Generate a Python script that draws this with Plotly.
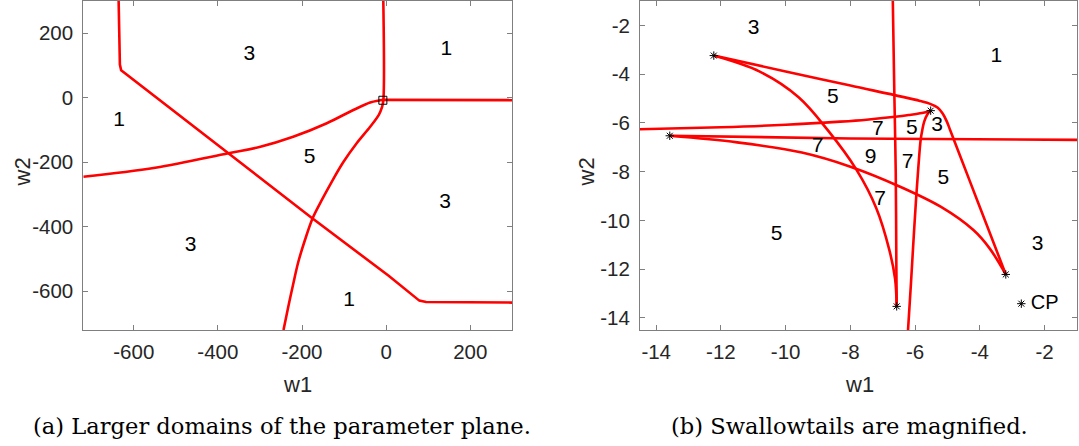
import plotly.graph_objects as go

# ---------------- Left panel (larger domain) ----------------
left_curve1_w1 = [-636, -635, -633, -630, -375, -178, 6, 79, 95, 150, 300]
left_curve1_w2 = [300, 150, 103, 85, -172, -371, -552, -629, -633, -634, -635]

left_curve2_w1 = [-720, -549, -375, -299, -221, -141, -78, -38, -19, -8]
left_curve2_w2 = [-245, -217, -172, -152, -121, -79, -38, -15, -9, -7]

left_curve3_w1 = [-10, 300]
left_curve3_w2 = [-6.6, -7.4]

left_curve4_w1 = [-6.7, -6.7, -10, -17, -38, -70, -102, -130, -155, -175, -193, -209, -221, -233, -244]
left_curve4_w2 = [300, -9, -30, -52, -90, -141, -200, -262, -322, -374, -441, -510, -578, -650, -720]

left_box_w1 = [-7.75]
left_box_w2 = [-7.75]

left_label_text = ["3", "1", "1", "5", "3", "3", "1"]
left_label_w1 = [-325, 143, -635, -182, 140, -465, -88]
left_label_w2 = [134, 150, -72, -186, -325, -459, -630]

left_ticks = [-600, -400, -200, 0, 200]
left_tick_text = ["-600", "-400", "-200", "0", "200"]

# ---------------- Right panel (swallowtails) ----------------
right_curveA_w1 = [-12.22, -10.0, -8.0, -5.85, -5.5, -5.3, -5.15, -5.02, -4.92, -4.32, -3.8, -3.2]
right_curveA_w2 = [-3.24, -3.89, -4.47, -5.10, -5.24, -5.38, -5.62, -5.95, -6.29, -8.36, -10.15, -12.22]

right_curveB_w1 = [-12.22, -10.8, -9.6, -8.7, -7.81, -7.2, -6.8, -6.62, -6.57]
right_curveB_w2 = [-3.24, -3.9, -4.95, -6.3, -7.93, -9.5, -11.2, -12.4, -13.53]

right_curveC_w1 = [-14.5, -12, -10, -8.32, -7.5, -6.62, -6.2, -5.85, -5.52]
right_curveC_w2 = [-6.26, -6.18, -6.08, -5.95, -5.87, -5.75, -5.68, -5.61, -5.50]

right_curveD_w1 = [-5.52, -5.62, -5.72, -5.78, -5.83, -5.9, -5.97, -6.05, -6.13, -6.22]
right_curveD_w2 = [-5.50, -5.65, -5.95, -6.3, -6.7, -7.8, -9.1, -10.8, -12.6, -14.5]

right_curveE_w1 = [-6.69, -6.64, -6.6, -6.58, -6.57]
right_curveE_w2 = [-1, -5, -8, -12, -13.53]

right_curveF_w1 = [-13.58, -8, -1]
right_curveF_w2 = [-6.53, -6.64, -6.70]

right_curveG_w1 = [-13.58, -11.5, -9.5, -8.0, -6.5, -5.2, -4.2, -3.7, -3.2]
right_curveG_w2 = [-6.53, -6.8, -7.22, -7.8, -8.6, -9.45, -10.4, -11.15, -12.22]

cp_w1 = [-12.22, -5.52, -13.58, -6.57, -3.2]
cp_w2 = [-3.24, -5.50, -6.53, -13.53, -12.22]

right_label_text = ["3", "1", "5", "7", "5", "3", "7", "9", "7", "5", "7", "5", "3"]
right_label_w1 = [-10.99, -3.49, -8.54, -7.15, -6.1, -5.32, -9.01, -7.38, -6.23, -5.13, -7.08, -10.28, -2.22]
right_label_w2 = [-2.14, -3.30, -4.98, -6.3, -6.23, -6.13, -6.97, -7.42, -7.63, -8.28, -9.14, -10.58, -10.99]

legend_w1 = [-2.72]
legend_w2 = [-13.42]
legend_text_w1 = [-2.0]

right_ticks = [-14, -12, -10, -8, -6, -4, -2]
right_tick_text = ["-14", "-12", "-10", "-8", "-6", "-4", "-2"]

captions = ["(a) Larger domains of the parameter plane.", "(b) Swallowtails are magnified."]

# ---------------- Figure ----------------
W, H = 1079, 446
RED = "#ff0000"
LW = 2.6
SANS = "Liberation Sans, Arial, sans-serif"
fig = go.Figure()

def add_line(x, y, xa, ya, shape="linear", smoothing=0.0):
    line = dict(color=RED, width=LW, shape=shape)
    if shape == "spline":
        line["smoothing"] = smoothing
    fig.add_trace(go.Scatter(x=x, y=y, mode="lines", line=line,
                             xaxis=xa, yaxis=ya, showlegend=False, hoverinfo="skip"))

add_line(left_curve1_w1, left_curve1_w2, "x", "y")
add_line(left_curve2_w1, left_curve2_w2, "x", "y", "spline", 1.0)
add_line(left_curve3_w1, left_curve3_w2, "x", "y")
add_line(left_curve4_w1, left_curve4_w2, "x", "y", "spline", 1.0)

fig.add_trace(go.Scatter(x=left_box_w1, y=left_box_w2, mode="markers",
                         marker=dict(symbol="square-open", size=8, color="black", line=dict(width=1)),
                         xaxis="x", yaxis="y", showlegend=False))

fig.add_trace(go.Scatter(x=left_label_w1, y=left_label_w2, mode="text", text=left_label_text,
                         textfont=dict(family=SANS, size=21, color="black"),
                         xaxis="x", yaxis="y", showlegend=False))

for xs, ys in [(right_curveA_w1, right_curveA_w2), (right_curveB_w1, right_curveB_w2),
               (right_curveC_w1, right_curveC_w2), (right_curveD_w1, right_curveD_w2),
               (right_curveE_w1, right_curveE_w2), (right_curveF_w1, right_curveF_w2),
               (right_curveG_w1, right_curveG_w2)]:
    add_line(xs, ys, "x2", "y2", "spline", 1.0)

fig.add_trace(go.Scatter(x=cp_w1 + legend_w1, y=cp_w2 + legend_w2, mode="markers",
                         marker=dict(symbol="asterisk-open", size=7, color="black",
                                     line=dict(width=1, color="#222222")),
                         xaxis="x2", yaxis="y2", showlegend=False))

fig.add_trace(go.Scatter(x=legend_text_w1, y=legend_w2, mode="text", text=["CP"],
                         textfont=dict(family=SANS, size=20, color="black"),
                         xaxis="x2", yaxis="y2", showlegend=False))

fig.add_trace(go.Scatter(x=right_label_w1, y=right_label_w2, mode="text", text=right_label_text,
                         textfont=dict(family=SANS, size=21, color="black"),
                         xaxis="x2", yaxis="y2", showlegend=False))

axis_common = dict(showgrid=False, zeroline=False, showline=True, linecolor="#7f7f7f", linewidth=1,
                   mirror="ticks", ticks="inside", ticklen=5, tickcolor="#7f7f7f", tickwidth=1,
                   tickfont=dict(family=SANS, size=20.5, color="#262626"))

ydom = [1 - 330 / H, 1 - 1 / H]
fig.update_layout(
    width=W, height=H, margin=dict(l=0, r=0, t=0, b=0),
    paper_bgcolor="white", plot_bgcolor="white",
    xaxis=dict(domain=[83.3 / W, 512.3 / W], range=[-720, 300], tickvals=left_ticks,
               ticktext=left_tick_text, anchor="y", ticklabelstandoff=3, **axis_common),
    yaxis=dict(domain=ydom, range=[-720, 300], tickvals=left_ticks, ticktext=left_tick_text,
               anchor="x", ticklabelstandoff=5, **axis_common),
    xaxis2=dict(domain=[640 / W, 1077 / W], range=[-14.5, -1], tickvals=right_ticks,
                ticktext=right_tick_text, anchor="y2", ticklabelstandoff=3, **axis_common),
    yaxis2=dict(domain=ydom, range=[-14.5, -1], tickvals=right_ticks, ticktext=right_tick_text,
                anchor="x2", ticklabelstandoff=5, **axis_common),
)

title_font = dict(family=SANS, size=22, color="#262626")
cap_font = dict(family="DejaVu Serif", size=22.6, color="black")
ann = [
    dict(text="w1", x=297.6 / W, y=1 - 384.4 / H, font=title_font),
    dict(text="w1", x=859 / W, y=1 - 384.4 / H, font=title_font),
    dict(text="w2", x=21.5 / W, y=1 - 172 / H, font=title_font, textangle=-90),
    dict(text="w2", x=585.5 / W, y=1 - 172 / H, font=title_font, textangle=-90),
    dict(text=captions[0], x=282 / W, y=1 - 426 / H, font=cap_font),
    dict(text=captions[1], x=849.5 / W, y=1 - 426 / H, font=cap_font),
]
for a in ann:
    fig.add_annotation(xref="paper", yref="paper", xanchor="center", yanchor="middle",
                       showarrow=False, **a)

fig.write_html("out.html")
